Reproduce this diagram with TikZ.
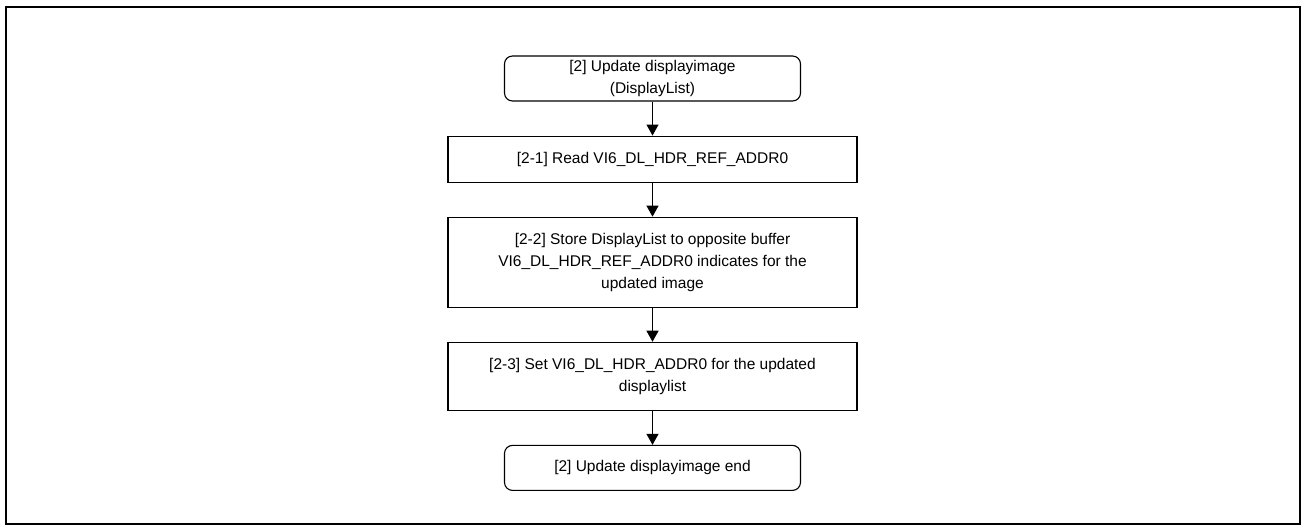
\documentclass[tikz,border=0pt]{standalone}
\usepackage{fontspec}
\setmainfont{Liberation Sans}
\usepackage{tikz}
\usetikzlibrary{arrows.meta,positioning}
\tikzset{
  term/.style={rectangle, rounded corners=8pt, draw=black, line width=1.1pt,
    align=center, minimum height=45pt, minimum width=296pt,
    font=\fontsize{15.5}{22}\selectfont, inner sep=3pt},
  proc/.style={rectangle, draw=black, line width=1.1pt, align=center,
    minimum width=409pt, font=\fontsize{15.5}{22}\selectfont, inner sep=3pt},
  flow/.style={-{Triangle[length=11pt,width=12pt]}, draw=black, line width=1.1pt},
}
\begin{document}
\begin{tikzpicture}[x=1pt, y=-1pt, node distance=34pt]
  \useasboundingbox (0,0) rectangle (1301,526);
  \draw[line width=2pt] (6,7) rectangle (1300,524);
  \node[term] (start) at (652.5,78.5) {[2] Update displayimage\\(DisplayList)};
  \node[proc, below=of start, minimum height=46pt] (read) {[2-1] Read VI6\_DL\_HDR\_REF\_ADDR0};
  \node[proc, below=of read, minimum height=90pt] (store) {[2-2] Store DisplayList to opposite buffer\\VI6\_DL\_HDR\_REF\_ADDR0 indicates for the\\updated image};
  \node[proc, below=of store, minimum height=68pt] (setaddr) {[2-3] Set VI6\_DL\_HDR\_ADDR0 for the updated\\displaylist};
  \node[term, below=of setaddr] (finish) {[2] Update displayimage end};
  \draw[flow] (start) -- (read);
  \draw[flow] (read) -- (store);
  \draw[flow] (store) -- (setaddr);
  \draw[flow] (setaddr) -- (finish);
\end{tikzpicture}
\end{document}
